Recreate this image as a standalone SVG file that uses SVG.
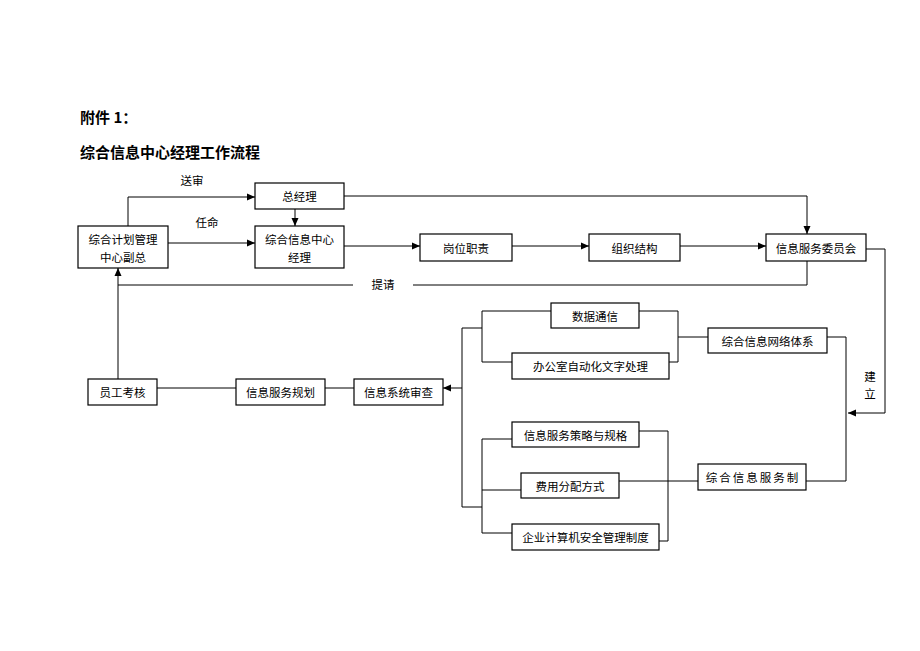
<svg xmlns="http://www.w3.org/2000/svg" width="920" height="651" viewBox="0 0 920 651">
<style>
text{font-family:"Noto Sans CJK SC","Noto Sans CJK JP",sans-serif;fill:#000}
.t{font-size:15px;font-weight:bold}
.n{font-size:11.5px;text-anchor:middle;dominant-baseline:central}
.l{font-size:11.5px;text-anchor:middle;dominant-baseline:central}
rect{fill:#fff;stroke:#000;stroke-width:1.2}
.c path{fill:none;stroke:#000;stroke-width:1}
</style>
<defs>
<marker id="a" markerUnits="userSpaceOnUse" markerWidth="8" markerHeight="8" refX="8" refY="4" orient="auto">
<path d="M0,0.5 L8,4 L0,7.5 z" fill="#000"/>
</marker>
</defs>
<rect x="0" y="0" width="920" height="651" style="stroke:none;fill:#fff"/>
<text class="t" x="80" y="123">附件 1：</text>
<text class="t" x="80" y="158">综合信息中心经理工作流程</text>

<g class="c">
<path d="M128,226 V197 H255" marker-end="url(#a)"/>
<path d="M168,243 H255" marker-end="url(#a)"/>
<path d="M295,209 V226" marker-end="url(#a)"/>
<path d="M344,196 H807 V234" marker-end="url(#a)"/>
<path d="M344,246 H420" marker-end="url(#a)"/>
<path d="M512,246 H589" marker-end="url(#a)"/>
<path d="M680,246 H766" marker-end="url(#a)"/>
<path d="M807,261 V285 H413"/>
<path d="M353,285 H118"/>
<path d="M118,379 V268" marker-end="url(#a)"/>
<path d="M866,249 H885 V413 H848" marker-end="url(#a)"/>
<path d="M827,337 H846 V481 H806"/>
<path d="M551,311 H482 V362 H512"/>
<path d="M639,311 H678 V362 H669"/>
<path d="M678,337 H708"/>
<path d="M482,328 H462 V507 H482"/>
<path d="M462,388 H443" marker-end="url(#a)"/>
<path d="M512,439 H482 V533 H512"/>
<path d="M482,490 H521"/>
<path d="M639,431 H668 V541 H659"/>
<path d="M619,481 H698"/>
<path d="M157,388 H236"/>
<path d="M325,388 H354"/>
</g>
<text class="l" x="192" y="180">送审</text>
<text class="l" x="207" y="222">任命</text>
<text class="l" x="383" y="284">提请</text>
<text class="l" x="870" y="376">建</text>
<text class="l" x="870" y="393">立</text>

<g id="fz"><rect x="78" y="226" width="90" height="42"/><text class="n" x="123" y="239">综合计划管理</text><text class="n" x="123" y="257">中心副总</text></g>
<g id="zjl"><rect x="255" y="183" width="89" height="26"/><text class="n" x="299.5" y="196">总经理</text></g>
<g id="jl"><rect x="255" y="226" width="89" height="42"/><text class="n" x="299.5" y="239">综合信息中心</text><text class="n" x="299.5" y="257">经理</text></g>
<g id="gwzz"><rect x="420" y="234" width="92" height="27"/><text class="n" x="466" y="247.5">岗位职责</text></g>
<g id="zzjg"><rect x="589" y="234" width="91" height="27"/><text class="n" x="634.5" y="247.5">组织结构</text></g>
<g id="wyh"><rect x="766" y="234" width="100" height="27"/><text class="n" x="816" y="247.5">信息服务委员会</text></g>
<g id="sjtx"><rect x="551" y="303" width="88" height="25"/><text class="n" x="595" y="315.5">数据通信</text></g>
<g id="bgs"><rect x="512" y="353" width="157" height="26"/><text class="n" x="590.5" y="366">办公室自动化文字处理</text></g>
<g id="wl"><rect x="708" y="328" width="119" height="25"/><text class="n" x="767.5" y="340.5">综合信息网络体系</text></g>
<g id="ygkh"><rect x="88" y="379" width="69" height="26"/><text class="n" x="122.5" y="392">员工考核</text></g>
<g id="ghgh"><rect x="236" y="379" width="89" height="26"/><text class="n" x="280.5" y="392">信息服务规划</text></g>
<g id="xtsc"><rect x="354" y="379" width="89" height="26"/><text class="n" x="398.5" y="392">信息系统审查</text></g>
<g id="clgg"><rect x="512" y="422" width="127" height="25"/><text class="n" x="575.5" y="434.5">信息服务策略与规格</text></g>
<g id="fyfp"><rect x="521" y="473" width="98" height="25"/><text class="n" x="570" y="485.5">费用分配方式</text></g>
<g id="aqgl"><rect x="512" y="524" width="147" height="26"/><text class="n" x="585.5" y="537">企业计算机安全管理制度</text></g>
<g id="fwz"><rect x="698" y="464" width="108" height="26"/><text class="n" x="753" y="477" letter-spacing="2">综合信息服务制</text></g>
</svg>
